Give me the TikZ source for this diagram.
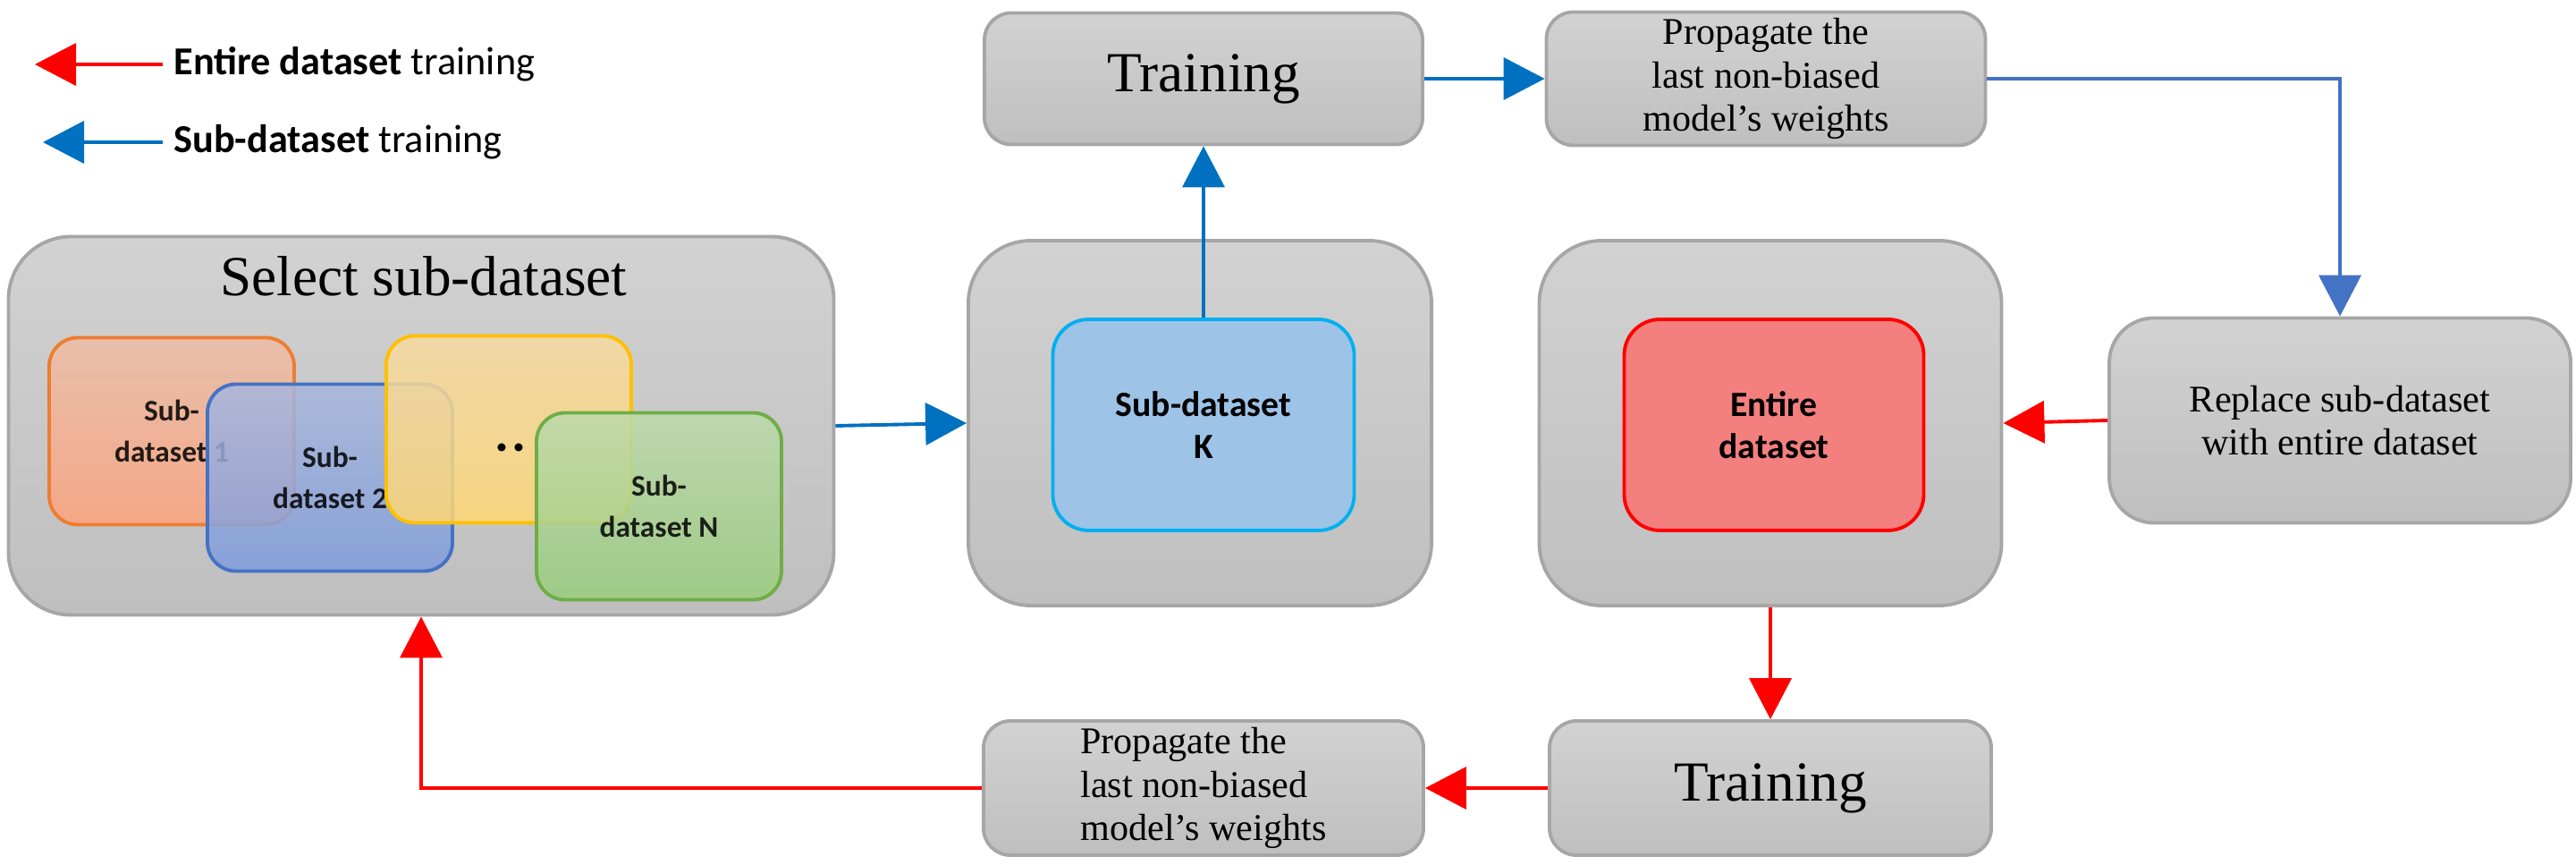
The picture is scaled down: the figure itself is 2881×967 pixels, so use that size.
\documentclass[tikz,border=0pt]{standalone}
\usepackage{fontspec}
\setmainfont{Liberation Serif}
\newfontfamily\calibri{Carlito}
\usetikzlibrary{arrows.meta}
\definecolor{BoxTop}{HTML}{D2D2D2}
\definecolor{BoxBot}{HTML}{BFBFBF}
\definecolor{BoxLine}{HTML}{A6A6A6}
\definecolor{RedA}{HTML}{FF0000}
\definecolor{BlueA}{HTML}{0070C0}
\definecolor{BlueB}{HTML}{4472C4}
\definecolor{OrA}{HTML}{ED7D31}
\definecolor{OrTop}{HTML}{EEBDA6}
\definecolor{OrBot}{HTML}{FEA37C}
\definecolor{BlA}{HTML}{4472C4}
\definecolor{BlTop}{HTML}{A8B7DD}
\definecolor{BlBot}{HTML}{7E9CDC}
\definecolor{YeA}{HTML}{FFC000}
\definecolor{YeTop}{HTML}{F6DAA1}
\definecolor{YeBot}{HTML}{FFD874}
\definecolor{GrA}{HTML}{70AD47}
\definecolor{GrTop}{HTML}{BDDAAB}
\definecolor{GrBot}{HTML}{99CD7D}
\definecolor{KLine}{HTML}{00B0F0}
\definecolor{KFill}{HTML}{9DC3E6}
\definecolor{EFill}{HTML}{F47F7F}
\tikzset{
  gbox/.style={draw=BoxLine, line width=1.1pt, rounded corners=3mm,
    top color=BoxTop, bottom color=BoxBot, align=center, inner sep=0pt,
    font=\fontsize{12}{13.8}\selectfont},
  bigbox/.style={gbox, rounded corners=7mm},
  bigtext/.style={font=\fontsize{18}{20}\selectfont},
  card/.style={line width=1.1pt, rounded corners=3.2mm, fill opacity=0.85,
    align=center, inner sep=0pt, minimum width=2.74cm, minimum height=2.09cm,
    font=\calibri\bfseries\fontsize{9.5}{13}\selectfont},
  inbox/.style={line width=1.1pt, rounded corners=4mm, align=center,
    minimum width=3.37cm, minimum height=2.36cm,
    font=\calibri\bfseries\fontsize{11.3}{13.4}\selectfont},
  legtext/.style={anchor=west, font=\calibri\fontsize{12.6}{14}\selectfont},
  flowr/.style={-{Triangle[length=4.6mm, width=4.7mm]}, line width=1.1pt, draw=RedA},
  flowb/.style={-{Triangle[length=4.6mm, width=4.7mm]}, line width=1.1pt, draw=BlueA},
  flowc/.style={-{Triangle[length=4.6mm, width=4.7mm]}, line width=1.1pt, draw=BlueB},
}

\begin{document}
\begin{tikzpicture}[x=0.1mm, y=-0.1mm]
  \useasboundingbox (0,0) rectangle (2881,967);

  % legend
  \node[legtext] (legred) at (182,72) {\textbf{Entire dataset} training};
  \node[legtext] (legblue) at (182,159) {\textbf{Sub-dataset} training};
  \coordinate (legredtip) at (39,72);
  \coordinate (legbluetip) at (48,159);
  \draw[flowr] (legred.west) -- (legredtip);
  \draw[flowb] (legblue.west) -- (legbluetip);

  % sub-dataset selection
  \node[bigbox, minimum width=9.23cm, minimum height=4.23cm] (select) at (471,476) {};
  \node[bigtext] (seltitle) at (474,309) {Select sub-dataset};
  \node[card, draw=OrA, top color=OrTop, bottom color=OrBot] (sub1) at (192,482) {Sub-\\dataset 1};
  \node[card, draw=BlA, top color=BlTop, bottom color=BlBot] (sub2) at (369,534) {Sub-\\dataset 2};
  \node[card, draw=YeA, top color=YeTop, bottom color=YeBot] (subdots) at (569,480) {};
  \node[anchor=base, font=\calibri\bfseries\fontsize{17}{17}\selectfont] (dots) at (571,505) {.\kern1pt.};
  \node[card, draw=GrA, top color=GrTop, bottom color=GrBot] (subn) at (737,566) {Sub-\\dataset N};

  % middle column
  \node[bigbox, minimum width=5.18cm, minimum height=4.08cm] (kbox) at (1342,473) {};
  \node[inbox, draw=KLine, fill=KFill] (subk) at (1346,475) {Sub-dataset\\K};
  \node[gbox, bigtext, minimum width=4.9cm, minimum height=1.47cm] (traintop) at (1346,88) {Training};
  \node[gbox, align=left, minimum width=4.92cm, minimum height=1.5cm] (propbot) at (1346,881)
    {Propagate the\\last non-biased\\model’s weights};

  % right columns
  \node[gbox, minimum width=4.91cm, minimum height=1.49cm] (proptop) at (1975,88)
    {Propagate the\\last non-biased\\model’s weights};
  \node[bigbox, minimum width=5.17cm, minimum height=4.08cm] (entbox) at (1980,473) {};
  \node[inbox, draw=RedA, fill=EFill, minimum width=3.35cm] (entire) at (1984,475) {Entire\\dataset};
  \node[gbox, bigtext, minimum width=4.94cm, minimum height=1.5cm] (trainbot) at (1980,881) {Training};
  \node[gbox, rounded corners=5mm, minimum width=5.16cm, minimum height=2.29cm] (replace) at (2617,470)
    {Replace sub-dataset\\with entire dataset};

  % sub-dataset training loop
  \draw[flowb] (select.east) -- (kbox.west);
  \draw[flowb] (subk.north) -- (traintop.south);
  \draw[flowb] (traintop.east) -- (proptop.west);
  \draw[flowc] (proptop.east) -| (replace.north);

  % entire dataset training loop
  \draw[flowr] (replace.west) -- (entbox.east);
  \draw[flowr] (entbox.south) -- (trainbot.north);
  \draw[flowr] (trainbot.west) -- (propbot.east);
  \draw[flowr] (propbot.west) -| (select.south);
\end{tikzpicture}
\end{document}
